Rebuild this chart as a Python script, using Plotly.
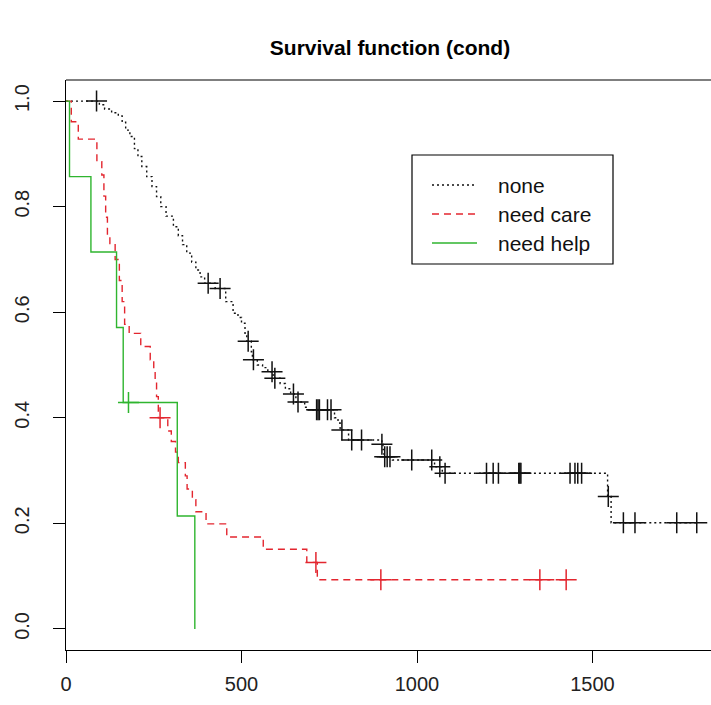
import plotly.graph_objects as go

# ---------------- data ----------------
# group "none" (black, dotted)
none_event_t = [95, 110, 130, 149, 160, 170, 182, 195, 205, 216, 230, 245, 258, 270, 285, 306, 320, 332,
                344, 358, 370, 382, 395, 425, 455, 476, 490, 500, 510, 515, 528, 531, 545, 560, 575, 590,
                610, 625, 640, 655, 680, 690, 765, 775, 781, 805, 900, 903, 906, 930, 1050, 1072, 1543, 1553]
none_event_s = [0.993, 0.985, 0.978, 0.972, 0.960, 0.945, 0.933, 0.910, 0.895, 0.876, 0.857, 0.838, 0.819,
                0.800, 0.782, 0.762, 0.745, 0.728, 0.712, 0.695, 0.680, 0.667, 0.655, 0.645, 0.620, 0.598,
                0.590, 0.579, 0.560, 0.545, 0.525, 0.510, 0.500, 0.495, 0.487, 0.475, 0.465, 0.455, 0.445,
                0.430, 0.420, 0.415, 0.400, 0.390, 0.377, 0.358, 0.350, 0.340, 0.326, 0.320, 0.307, 0.295,
                0.251, 0.201]
none_censor_t = [87, 405, 439, 519, 534, 587, 595, 648, 661, 714, 718, 722, 745, 755, 786, 814, 842, 900,
                 908, 915, 923, 985, 1042, 1065, 1080, 1198, 1217, 1232, 1290, 1293, 1296, 1436, 1450, 1458,
                 1469, 1545, 1588, 1621, 1740, 1797]
none_end = 1797

# group "need care" (red, dashed)
care_event_t = [15, 35, 88, 102, 108, 113, 118, 125, 140, 152, 160, 167, 180, 213, 240, 250, 254, 258, 263,
                290, 300, 312, 320, 340, 345, 360, 370, 399, 458, 562, 686, 716]
care_event_s = [0.961, 0.928, 0.885, 0.860, 0.820, 0.780, 0.745, 0.730, 0.700, 0.660, 0.620, 0.577, 0.560,
                0.535, 0.510, 0.490, 0.470, 0.440, 0.400, 0.375, 0.355, 0.335, 0.315, 0.290, 0.265, 0.245,
                0.222, 0.199, 0.174, 0.151, 0.126, 0.093]
care_censor_t = [268, 712, 897, 1350, 1425]
care_end = 1425

# group "need help" (green, solid)
help_event_t = [10, 71, 144, 163, 317, 367]
help_event_s = [0.857, 0.714, 0.571, 0.429, 0.214, 0.0]
help_censor_t = [178]
help_end = 367

group_names = ["none", "need care", "need help"]
x_ticks = [0, 500, 1000, 1500]
y_ticks = [0.0, 0.2, 0.4, 0.6, 0.8, 1.0]
y_tick_text = ["0.0", "0.2", "0.4", "0.6", "0.8", "1.0"]
title_text = "Survival function (cond)"

# ---------------- styling ----------------
colors = ["#111111", "#e3262f", "#2fb52f"]
dashes = ["2px,3px", "7px,5px", "solid"]
FONT = "Liberation Sans, Arial, sans-serif"


def surv_at(t, ev_t, ev_s):
    s = 1.0
    for et, es in zip(ev_t, ev_s):
        if et <= t:
            s = es
    return s


groups = [
    (none_event_t, none_event_s, none_censor_t, none_end),
    (care_event_t, care_event_s, care_censor_t, care_end),
    (help_event_t, help_event_s, help_censor_t, help_end),
]

fig = go.Figure()
for (ev_t, ev_s, cen_t, end), name, col, dash in zip(groups, group_names, colors, dashes):
    xs = [0] + list(ev_t)
    ys = [1.0] + list(ev_s)
    if end > ev_t[-1]:
        xs.append(end)
        ys.append(ev_s[-1])
    fig.add_trace(go.Scatter(x=xs, y=ys, mode="lines", line_shape="hv",
                             line=dict(color=col, width=1.4, dash=dash),
                             name=name, showlegend=False, hoverinfo="skip"))
    fig.add_trace(go.Scatter(x=cen_t, y=[surv_at(t, ev_t, ev_s) for t in cen_t], mode="markers",
                             marker=dict(symbol="cross-thin", size=15, color=col,
                                         line=dict(width=1.5, color=col)),
                             showlegend=False, hoverinfo="skip"))

# plot geometry (pixels)
L, T, W, H = 66, 80, 711, 705
R_, B = 0, 55
pw, ph = W - L - R_, H - T - B


def px_x(x):
    return (x - L) / pw


def px_y(y):
    return 1 - (y - T) / ph


shapes = [
    dict(type="line", xref="paper", yref="paper", x0=0, x1=1, y0=1, y1=1,
         line=dict(color="black", width=1.2)),
    dict(type="rect", xref="paper", yref="paper", x0=px_x(412), x1=px_x(613), y0=px_y(264), y1=px_y(155),
         line=dict(color="black", width=1.2), fillcolor="white"),
]
annotations = []
leg_y = [185, 214, 243]
for name, col, dash, yy in zip(group_names, colors, dashes, leg_y):
    shapes.append(dict(type="line", xref="paper", yref="paper", x0=px_x(432), x1=px_x(477),
                       y0=px_y(yy), y1=px_y(yy), line=dict(color=col, width=1.4, dash=dash)))
    annotations.append(dict(xref="paper", yref="paper", x=px_x(496), y=px_y(yy), text=name,
                            showarrow=False, xanchor="left", yanchor="middle",
                            font=dict(family=FONT, size=21, color="#111111")))

fig.update_layout(
    width=W, height=H,
    margin=dict(l=L, r=R_, t=T, b=B, pad=0),
    paper_bgcolor="white", plot_bgcolor="white",
    title=dict(text="<b>" + title_text + "</b>", x=390 / W, xref="container", xanchor="center",
               y=1 - 48 / H, yref="container", yanchor="middle",
               font=dict(family=FONT, size=21, color="black")),
    shapes=shapes, annotations=annotations,
    showlegend=False,
)
fig.update_xaxes(range=[0, pw / 0.351], tickvals=x_ticks, ticks="outside", ticklen=12, tickwidth=1.2,
                 tickcolor="black", showline=True, linecolor="black", linewidth=1.2, showgrid=False,
                 zeroline=False, ticklabelstandoff=4,
                 tickfont=dict(family=FONT, size=20, color="#222222"))
fig.update_yaxes(range=[-0.04, 1.04], tickvals=y_ticks, ticktext=y_tick_text, tickangle=-90,
                 ticks="outside", ticklen=12, tickwidth=1.2, tickcolor="black", showline=True,
                 linecolor="black", linewidth=1.2, showgrid=False, zeroline=False,
                 ticklabelstandoff=16,
                 tickfont=dict(family=FONT, size=20, color="#222222"))

fig.write_html("out.html")
